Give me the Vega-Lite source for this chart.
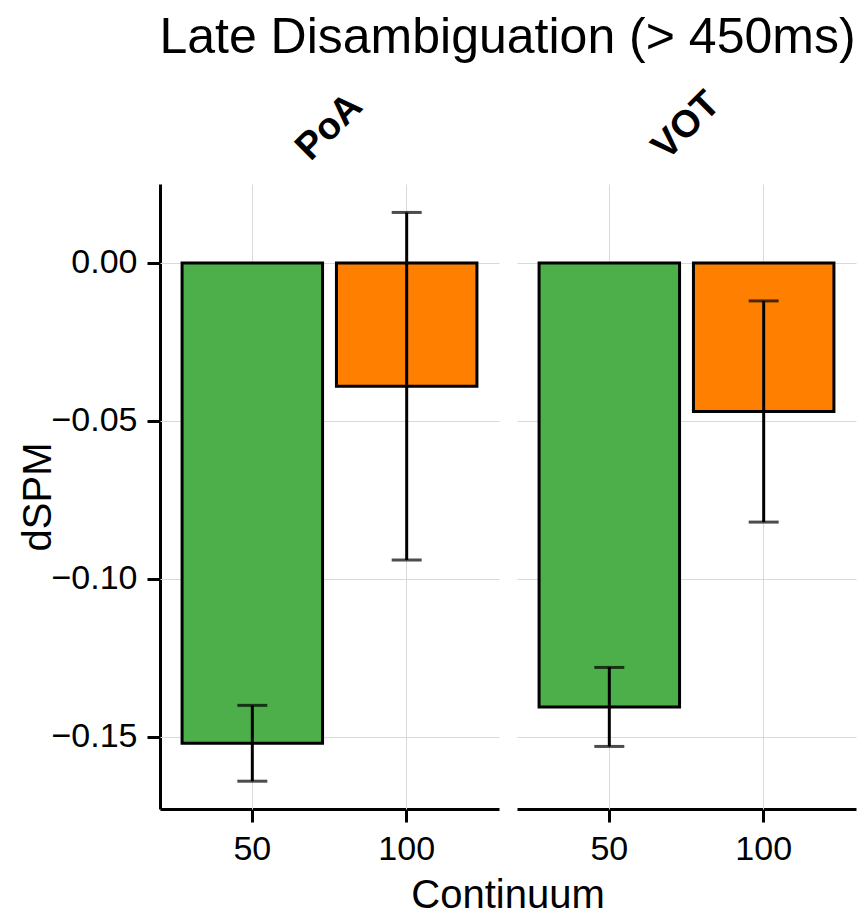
{
  "$schema": "https://vega.github.io/schema/vega-lite/v6.json",
  "background": "white",
  "padding": {"left": 18, "top": 12, "right": 4, "bottom": 4},
  "title": {"text": "Late Disambiguation (> 450ms)", "fontSize": 50, "font": "Liberation Sans", "fontWeight": "normal", "anchor": "middle", "dx": 70, "offset": 22, "color": "black"},
  "data": {"values": [
    {"cond": "PoA", "cont": 50, "mean": -0.152, "lo": -0.164, "hi": -0.140},
    {"cond": "PoA", "cont": 100, "mean": -0.039, "lo": -0.094, "hi": 0.016},
    {"cond": "VOT", "cont": 50, "mean": -0.1405, "lo": -0.153, "hi": -0.128},
    {"cond": "VOT", "cont": 100, "mean": -0.047, "lo": -0.082, "hi": -0.012}
  ]},
  "facet": {"column": {"field": "cond", "type": "nominal", "title": "Continuum",
    "header": {"labelAngle": -45, "labelFontSize": 38, "labelFontWeight": "bold", "labelFont": "Liberation Sans", "labelColor": "black", "labelOrient": "top", "labelAlign": "center", "labelBaseline": "middle", "labelPadding": -24,
      "titleOrient": "bottom", "titleFontSize": 40, "titleFont": "Liberation Sans", "titleFontWeight": "normal", "titleColor": "black", "titlePadding": 0}}},
  "spacing": 18,
  "spec": {
    "width": 339,
    "height": 625,
    "encoding": {
      "x": {"field": "cont", "type": "ordinal", "title": null,
        "scale": {"paddingInner": 0.09, "paddingOuter": 0.143},
        "axis": {"grid": true, "bandPosition": 0.5, "labelAngle": 0, "labelPadding": 10}}
    },
    "layer": [
      {"mark": {"type": "bar", "stroke": "black", "strokeWidth": 3},
       "encoding": {
         "y": {"field": "mean", "type": "quantitative", "title": "dSPM",
           "scale": {"domain": [-0.1728, 0.025], "nice": false, "zero": false},
           "axis": {"values": [0, -0.05, -0.1, -0.15], "format": ".2f", "titlePadding": -8, "labelPadding": 10, "titleFontSize": 40}},
         "color": {"field": "cont", "type": "nominal", "scale": {"domain": [50, 100], "range": ["#4daf4a", "#ff7f00"]}, "legend": null}
       }},
      {"mark": {"type": "rule", "strokeWidth": 3, "color": "black"},
       "encoding": {"y": {"field": "lo", "type": "quantitative"}, "y2": {"field": "hi"}}},
      {"mark": {"type": "tick", "size": 30, "thickness": 3, "color": "black"},
       "encoding": {"y": {"field": "lo", "type": "quantitative"}}},
      {"mark": {"type": "tick", "size": 30, "thickness": 3, "color": "black"},
       "encoding": {"y": {"field": "hi", "type": "quantitative"}}}
    ]
  },
  "config": {
    "font": "Liberation Sans",
    "view": {"stroke": null},
    "axis": {"domainColor": "black", "domainWidth": 3, "tickColor": "black", "tickWidth": 3, "tickSize": 13,
      "labelFontSize": 34, "labelColor": "black", "labelFont": "Liberation Sans",
      "titleFontSize": 40, "titleColor": "black", "titleFontWeight": "normal", "titleFont": "Liberation Sans",
      "gridColor": "#d9d9d9", "gridWidth": 1}
  }
}
